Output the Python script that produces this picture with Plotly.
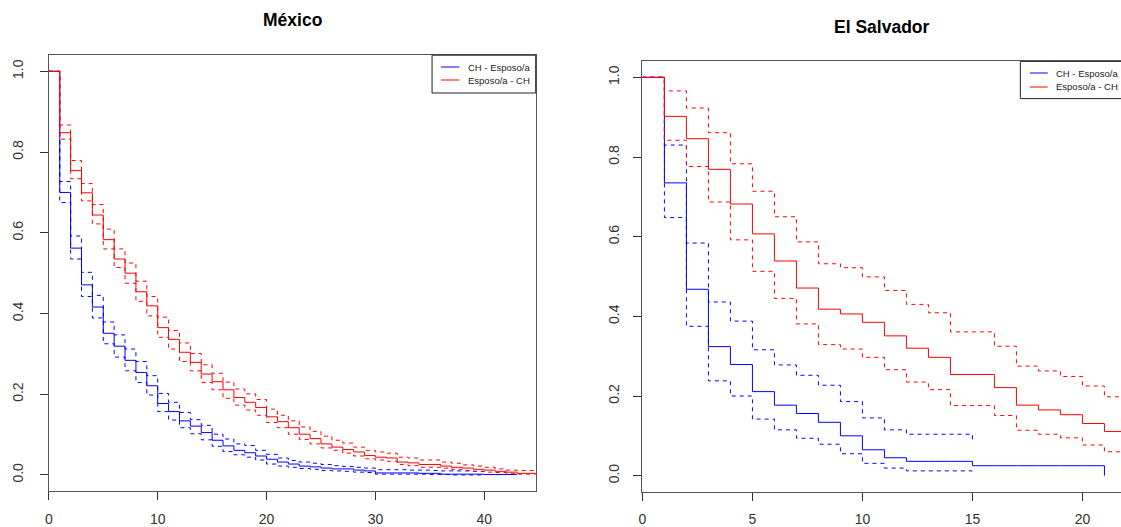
import plotly.graph_objects as go

# ---------------- data ----------------
# México (time in integer steps)
mx_blue_surv = [1.0, 0.700, 0.562, 0.471, 0.416, 0.351, 0.319, 0.284, 0.254, 0.221,
                0.177, 0.157, 0.134, 0.121, 0.105, 0.086, 0.072, 0.061, 0.055, 0.047,
                0.039, 0.032, 0.027, 0.022, 0.020, 0.017, 0.015, 0.015, 0.012, 0.010,
                0.005, 0.005, 0.005, 0.005, 0.004, 0.004, 0.002, 0.002, 0.002, 0.002,
                0.001, 0.001, 0.001, 0.001]
mx_blue_upper = [1.0, 0.727, 0.592, 0.502, 0.445, 0.379, 0.347, 0.312, 0.281, 0.246,
                 0.202, 0.180, 0.155, 0.137, 0.123, 0.101, 0.089, 0.077, 0.073, 0.061,
                 0.051, 0.042, 0.036, 0.032, 0.029, 0.026, 0.023, 0.021, 0.019, 0.017,
                 0.013, 0.013, 0.013, 0.012, 0.012, 0.011, 0.010, 0.010, 0.010, 0.009,
                 0.009]
mx_blue_lower = [1.0, 0.675, 0.535, 0.442, 0.389, 0.325, 0.292, 0.258, 0.229, 0.198,
                 0.157, 0.136, 0.117, 0.102, 0.087, 0.071, 0.058, 0.050, 0.044, 0.037,
                 0.027, 0.022, 0.019, 0.016, 0.014, 0.011, 0.010, 0.009, 0.007, 0.006,
                 0.002, 0.002, 0.002, 0.002, 0.002, 0.001, 0.001, 0.000, 0.000, 0.000,
                 0.000]
mx_red_surv = [1.0, 0.848, 0.754, 0.699, 0.644, 0.583, 0.535, 0.500, 0.454, 0.419,
               0.365, 0.336, 0.304, 0.279, 0.250, 0.231, 0.211, 0.192, 0.180, 0.167,
               0.144, 0.132, 0.117, 0.101, 0.090, 0.077, 0.069, 0.063, 0.057, 0.048,
               0.044, 0.042, 0.032, 0.030, 0.026, 0.026, 0.022, 0.019, 0.017, 0.014,
               0.012, 0.009, 0.007, 0.004, 0.004, 0.004]
mx_red_upper = [1.0, 0.867, 0.779, 0.722, 0.670, 0.609, 0.560, 0.525, 0.480, 0.442,
                0.391, 0.358, 0.327, 0.301, 0.273, 0.252, 0.230, 0.213, 0.201, 0.187,
                0.163, 0.148, 0.134, 0.119, 0.108, 0.096, 0.086, 0.079, 0.069, 0.061,
                0.057, 0.054, 0.044, 0.042, 0.037, 0.037, 0.032, 0.029, 0.025, 0.022,
                0.019, 0.015, 0.012, 0.011, 0.011, 0.011]
mx_red_lower = [1.0, 0.832, 0.734, 0.679, 0.622, 0.560, 0.514, 0.475, 0.430, 0.394,
                0.341, 0.312, 0.281, 0.258, 0.229, 0.211, 0.190, 0.173, 0.161, 0.148,
                0.130, 0.117, 0.101, 0.088, 0.077, 0.067, 0.061, 0.054, 0.047, 0.040,
                0.037, 0.034, 0.026, 0.023, 0.019, 0.019, 0.017, 0.014, 0.011, 0.009,
                0.007, 0.006, 0.004, 0.002, 0.002, 0.002]

# El Salvador
sv_blue_surv = [1.0, 0.735, 0.468, 0.324, 0.279, 0.211, 0.177, 0.156, 0.134, 0.100,
                0.065, 0.045, 0.036, 0.036, 0.036, 0.025, 0.025, 0.025, 0.025, 0.025,
                0.025, 0.0]
sv_blue_upper = [1.0, 0.830, 0.584, 0.436, 0.388, 0.316, 0.278, 0.252, 0.227, 0.186,
                 0.145, 0.115, 0.104, 0.104, 0.104, 0.090]
sv_blue_lower = [1.0, 0.648, 0.375, 0.238, 0.200, 0.142, 0.115, 0.094, 0.079, 0.055,
                 0.031, 0.019, 0.012, 0.012, 0.012, 0.012]
sv_red_surv = [1.0, 0.902, 0.846, 0.769, 0.682, 0.607, 0.539, 0.471, 0.418, 0.406,
               0.385, 0.351, 0.320, 0.297, 0.254, 0.254, 0.221, 0.177, 0.165, 0.153,
               0.131, 0.111, 0.111]
sv_red_upper = [1.0, 0.966, 0.923, 0.861, 0.783, 0.714, 0.650, 0.587, 0.532, 0.522,
                0.499, 0.465, 0.430, 0.409, 0.361, 0.361, 0.325, 0.275, 0.263, 0.249,
                0.225, 0.198, 0.198]
sv_red_lower = [1.0, 0.842, 0.776, 0.687, 0.592, 0.513, 0.445, 0.381, 0.329, 0.318,
                0.297, 0.266, 0.235, 0.216, 0.176, 0.176, 0.151, 0.114, 0.104, 0.095,
                0.077, 0.060, 0.060]

titles = ["México", "El Salvador"]
legend_labels = ["CH - Esposo/a", "Esposo/a - CH"]
mx_xticks = [0, 10, 20, 30, 40]
sv_xticks = [0, 5, 10, 15, 20]
yticks = [0.0, 0.2, 0.4, 0.6, 0.8, 1.0]
ytick_text = ["0.0", "0.2", "0.4", "0.6", "0.8", "1.0"]

BLUE = "#0000FF"
RED = "#FF0000"
W, H = 1121, 527

fig = go.Figure()


def add_step(vals, color, dash, xa, ya):
    fig.add_trace(go.Scatter(
        x=list(range(len(vals))), y=vals, mode="lines", line_shape="hv",
        line=dict(color=color, width=1, dash=dash),
        xaxis=xa, yaxis=ya, showlegend=False, hoverinfo="skip"))


DASH = "4px,4px"
for vals, col, d in [(mx_blue_surv, BLUE, "solid"), (mx_blue_upper, BLUE, DASH),
                     (mx_blue_lower, BLUE, DASH), (mx_red_surv, RED, "solid"),
                     (mx_red_upper, RED, DASH), (mx_red_lower, RED, DASH)]:
    add_step(vals, col, d, "x", "y")
for vals, col, d in [(sv_blue_surv, BLUE, "solid"), (sv_blue_upper, BLUE, DASH),
                     (sv_blue_lower, BLUE, DASH), (sv_red_surv, RED, "solid"),
                     (sv_red_upper, RED, DASH), (sv_red_lower, RED, DASH)]:
    add_step(vals, col, d, "x2", "y2")

FONT = "Arial, Liberation Sans, sans-serif"
tickfont = dict(family=FONT, size=14, color="#333333")
axis_common = dict(showgrid=False, zeroline=False, showline=True, linecolor="#555555",
                   linewidth=1, ticks="outside", ticklen=8, tickcolor="#333333",
                   tickwidth=1, tickfont=tickfont, fixedrange=True)

# panel geometry (pixels)
L = dict(x0=45, x1=533.6, top=55.2, bottom=491.1)
R = dict(x0=640.7, x1=W, top=61.4, bottom=491.6)
mx_xmax = (L["x1"] - L["x0"]) / 10.925
sv_xmax = (R["x1"] - R["x0"]) / 22.08

fig.update_layout(
    width=W, height=H, margin=dict(l=0, r=0, t=0, b=0),
    paper_bgcolor="white", plot_bgcolor="white", showlegend=False,
    xaxis=dict(domain=[L["x0"] / W, L["x1"] / W], range=[0, mx_xmax], anchor="y",
               tickvals=mx_xticks, mirror=True, ticklabelstandoff=7, **axis_common),
    yaxis=dict(domain=[1 - L["bottom"] / H, 1 - L["top"] / H], range=[-0.04, 1.04],
               anchor="x", tickvals=yticks, ticktext=ytick_text, tickangle=-90,
               mirror=True, ticklabelstandoff=11, **axis_common),
    xaxis2=dict(domain=[R["x0"] / W, 1.0], range=[0, sv_xmax], anchor="y2",
                tickvals=sv_xticks, mirror=True, ticklabelstandoff=7, **axis_common),
    yaxis2=dict(domain=[1 - R["bottom"] / H, 1 - R["top"] / H], range=[-0.04, 1.04],
                anchor="x2", tickvals=yticks, ticktext=ytick_text, tickangle=-90,
                mirror=False, ticklabelstandoff=9, **axis_common),
)

# titles
fig.add_annotation(text="<b>%s</b>" % titles[0], x=(L["x0"] + L["x1"]) / 2 / W, y=1 - 20 / H,
                   xref="paper", yref="paper", showarrow=False, xanchor="center",
                   yanchor="middle", font=dict(family=FONT, size=17.5, color="#000000"))
fig.add_annotation(text="<b>%s</b>" % titles[1], x=881 / W, y=1 - 27 / H,
                   xref="paper", yref="paper", showarrow=False, xanchor="center",
                   yanchor="middle", font=dict(family=FONT, size=17.5, color="#000000"))


# R-style legends (box + line samples + text)
def r_legend(bx0, bx1, by0, by1, lx0, lx1, tx, rows):
    fig.add_shape(type="rect", xref="paper", yref="paper",
                  x0=bx0 / W, x1=bx1 / W, y0=1 - by1 / H, y1=1 - by0 / H,
                  line=dict(color="#222222", width=1), fillcolor="white", layer="above")
    for (ry, col, lab) in rows:
        fig.add_shape(type="line", xref="paper", yref="paper",
                      x0=lx0 / W, x1=lx1 / W, y0=1 - ry / H, y1=1 - ry / H,
                      line=dict(color=col, width=1), layer="above")
        fig.add_annotation(text=lab, x=tx / W, y=1 - ry / H, xref="paper", yref="paper",
                           showarrow=False, xanchor="left", yanchor="middle",
                           font=dict(family=FONT, size=9.5, color="#222222"))


r_legend(429.6, 533.6, 55.2, 93, 438.6, 457, 464,
         [(67, BLUE, legend_labels[0]), (80, RED, legend_labels[1])])
r_legend(1020, W + 10, 61.4, 98.6, 1029.6, 1047.5, 1054,
         [(73, BLUE, legend_labels[0]), (87, RED, legend_labels[1])])

fig.write_html("out.html", config={"displayModeBar": False},
               post_script="document.body.style.margin='0px';"
                           "document.body.style.overflow='hidden';")
